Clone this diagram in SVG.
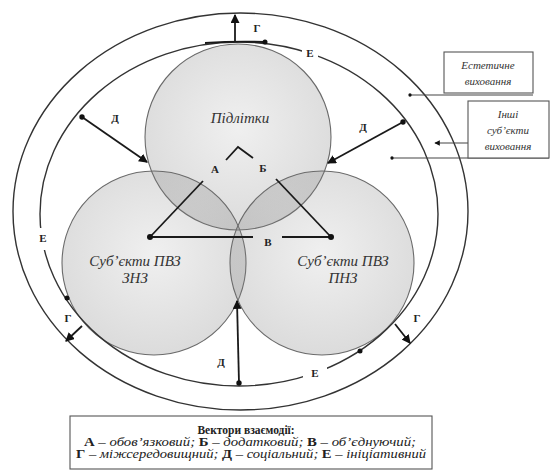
<svg xmlns="http://www.w3.org/2000/svg" width="550" height="476" viewBox="0 0 550 476">
  <style>
    .ell { fill: none; stroke: #333; stroke-width: 1.4; }
    .circ { fill: url(#cg); stroke: #6a6a6a; stroke-width: 1.1; }
    .ln { fill: none; stroke: #1a1a1a; stroke-width: 1.8; }
    .thin { fill: none; stroke: #444; stroke-width: 1.1; }
    .lbl { font-family: "Liberation Serif", "Times New Roman", "DejaVu Serif", serif; font-weight: bold; font-size: 11px; fill: #222; text-anchor: middle; }
    .it { font-family: "Liberation Serif", "Times New Roman", "DejaVu Serif", serif; font-style: italic; fill: #333; text-anchor: middle; }
    .box { fill: #fff; stroke: #555; stroke-width: 1.1; }
    .leg { font-family: "Liberation Serif", "Times New Roman", "DejaVu Serif", serif; font-size: 11.5px; fill: #222; text-anchor: middle; }
    .b { font-weight: bold; font-style: normal; }
    .i { font-style: italic; }
  </style>
  <defs>
    <radialGradient id="cg" cx="0.5" cy="0.45" r="0.55">
      <stop offset="0" stop-color="#808080" stop-opacity="0.12"/>
      <stop offset="1" stop-color="#808080" stop-opacity="0.28"/>
    </radialGradient>
    <marker id="arr" viewBox="0 0 8 8" refX="7" refY="4" markerWidth="5" markerHeight="5" orient="auto">
      <path d="M0,0 L8,4 L0,8 z" fill="#111"/>
    </marker>
    <marker id="dot" viewBox="0 0 6 6" refX="3" refY="3" markerWidth="3" markerHeight="3">
      <circle cx="3" cy="3" r="3" fill="#111"/>
    </marker>
  </defs>
  <rect width="550" height="476" fill="#fff"/>

  <g id="outer-ring">
    <ellipse class="ell" cx="240.5" cy="211.5" rx="227.5" ry="198.5"/>
  </g>

  <g id="teens">
    <circle class="circ" cx="238" cy="137" r="93"/>
    <text class="it" x="240" y="123" font-size="15">Підлітки</text>
  </g>
  <g id="subjects-zns">
    <circle class="circ" cx="154" cy="263" r="92"/>
    <text class="it" x="135" y="266" font-size="15">Суб’єкти ПВЗ</text>
    <text class="it" x="135" y="283" font-size="15">ЗНЗ</text>
  </g>
  <g id="subjects-pnz">
    <circle class="circ" cx="322" cy="263" r="92"/>
    <text class="it" x="343" y="266" font-size="15">Суб’єкти ПВЗ</text>
    <text class="it" x="343" y="283" font-size="15">ПНЗ</text>
  </g>

  <g id="inner-ring">
    <ellipse class="ell" cx="239" cy="214" rx="199" ry="172"/>
    <path class="ln" d="M 205 43 Q 235 41 265 42"/>
  </g>

  <g id="connectors">
    <!-- triangle (А, Б, В) -->
    <path class="ln" d="M150 237 L203 181"/>
    <path class="ln" d="M331 237 L276 179"/>
    <path class="ln" d="M150 237 L253 237"/>
    <path class="ln" d="M282 237 L331 237"/>
    <path class="ln" d="M226 160 L238 147 L253 158"/>
    <circle cx="150" cy="237" r="3" fill="#111"/>
    <circle cx="331" cy="237" r="3" fill="#111"/>
    <!-- Д -->
    <path class="ln" d="M82 117 L147 162" marker-start="url(#dot)" marker-end="url(#arr)"/>
    <path class="ln" d="M403 122 L328 163" marker-start="url(#dot)" marker-end="url(#arr)"/>
    <path class="ln" d="M239 383 L237 301" marker-start="url(#dot)" marker-end="url(#arr)"/>
    <!-- Г -->
    <path class="ln" d="M235 42 L235 15" marker-end="url(#arr)"/>
    <path class="ln" d="M82 326 L66 341" marker-end="url(#arr)"/>
    <path class="ln" d="M395 324 L410 343" marker-end="url(#arr)"/>
    <!-- Е endpoints -->
    <circle cx="265" cy="42" r="2.5" fill="#111"/>
    <circle cx="67" cy="298" r="2.5" fill="#111"/>
    <circle cx="360" cy="351" r="2.5" fill="#111"/>
    <!-- side box connectors -->
    <path class="thin" d="M410 95 L533 95" marker-start="url(#dot)"/>
    <path class="thin" d="M468 143 L435 143" marker-end="url(#arr)"/>
    <path class="thin" d="M392 158 L549 158" marker-start="url(#dot)"/>
  </g>

  <g id="labels">
    <text class="lbl" x="257" y="32">Г</text>
    <text class="lbl" x="68" y="322">Г</text>
    <text class="lbl" x="417" y="322">Г</text>
    <text class="lbl" x="115" y="122">Д</text>
    <text class="lbl" x="363" y="131">Д</text>
    <text class="lbl" x="221" y="366">Д</text>
    <rect x="302" y="45" width="16" height="16" fill="#fff"/>
    <text class="lbl" x="310" y="57">Е</text>
    <rect x="35" y="228" width="16" height="22" fill="#fff"/>
    <text class="lbl" x="43" y="242">Е</text>
    <rect x="303" y="364" width="24" height="18" fill="#fff"/>
    <text class="lbl" x="315" y="377">Е</text>
    <text class="lbl" x="215" y="173">А</text>
    <text class="lbl" x="263" y="172">Б</text>
    <text class="lbl" x="268" y="246">В</text>
  </g>

  <g id="box-aesthetic">
    <rect class="box" x="444" y="52" width="89" height="41"/>
    <text class="it" x="488" y="69" font-size="11">Естетичне</text>
    <text class="it" x="488" y="85" font-size="11">виховання</text>
  </g>
  <g id="box-others">
    <rect class="box" x="468" y="101" width="81" height="57"/>
    <text class="it" x="508" y="118" font-size="11">Інші</text>
    <text class="it" x="508" y="134" font-size="11">суб’єкти</text>
    <text class="it" x="508" y="150" font-size="11">виховання</text>
  </g>

  <g id="legend">
    <rect class="box" x="70" y="416" width="362" height="53"/>
    <text class="leg b" x="246" y="434">Вектори взаємодії:</text>
    <text class="leg" x="250" y="446" textLength="332" lengthAdjust="spacingAndGlyphs"><tspan class="b">А</tspan><tspan class="i"> – обов’язковий; </tspan><tspan class="b">Б</tspan><tspan class="i"> – додатковий; </tspan><tspan class="b">В</tspan><tspan class="i"> – об’єднуючий;</tspan></text>
    <text class="leg" x="251" y="458" textLength="350" lengthAdjust="spacingAndGlyphs"><tspan class="b">Г</tspan><tspan class="i"> – міжсередовищний; </tspan><tspan class="b">Д</tspan><tspan class="i"> – соціальний; </tspan><tspan class="b">Е</tspan><tspan class="i"> – ініціативний</tspan></text>
  </g>
</svg>
